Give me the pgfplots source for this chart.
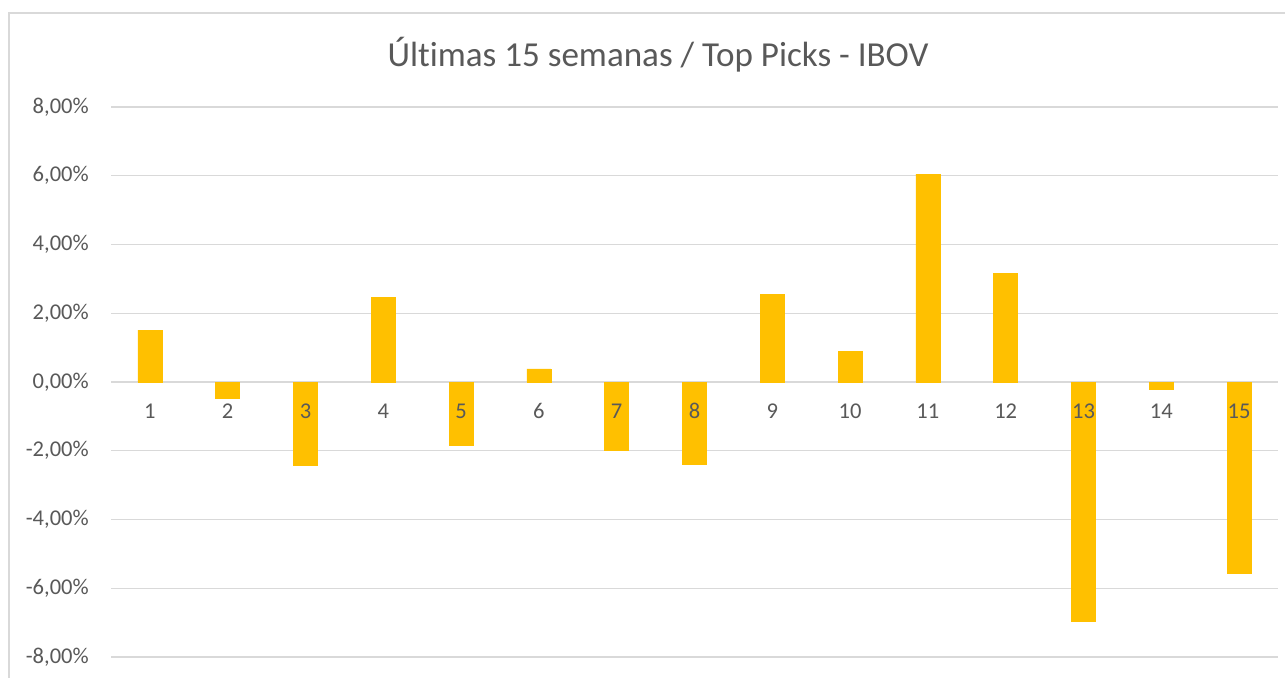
\documentclass[border=0pt]{standalone}
\usepackage{pgfplots}
\pgfplotsset{compat=1.18}
\usepackage{fontspec}
\setmainfont{Carlito}[Ligatures=NoCommon]
\definecolor{bargold}{HTML}{FFC000}
\definecolor{gridgray}{HTML}{D9D9D9}
\definecolor{txtgray}{HTML}{595959}
\begin{document}
\begin{tikzpicture}
\useasboundingbox (0,0) rectangle (963.75pt,-508.5pt);
\draw[gridgray, line width=1pt] (6.75pt,-600pt) -- (6.75pt,-9.75pt) -- (1000pt,-9.75pt);
\node[txtgray, font=\fontsize{26.3pt}{30pt}\selectfont] at (493.5pt,-41.25pt) {Últ\kern0pt imas 15 semanas / Top Picks - IBOV};
\begin{axis}[
  at={(83.25pt,-492.75pt)}, anchor=south west,
  scale only axis, width=875.25pt, height=412.5pt,
  xmin=0.5, xmax=15.5, ymin=-8, ymax=8,
  axis x line=middle, axis y line=left,
  x axis line style={draw=gridgray, line width=1pt, -},
  y axis line style={draw=none},
  xtick={1,...,15}, xticklabels={},
  ytick={-8,-6,...,8},
  yticklabels={{-8,00\%},{-6,00\%},{-4,00\%},{-2,00\%},{0,00\%},{2,00\%},{4,00\%},{6,00\%},{8,00\%}},
  major tick length=0pt,
  ymajorgrids, grid style={gridgray, line width=1pt},
  ticklabel style={font=\fontsize{16.9pt}{20pt}\selectfont, text=txtgray},
  yticklabel style={anchor=east, inner sep=0pt, xshift=-16.5pt},
  /pgf/number format/assume math mode=true,
  clip=false,
]
\addplot[ybar, bar width=18pt, bar shift=0pt, fill=bargold, draw=bargold] coordinates {
(1,1.51) (2,-0.46) (3,-2.43) (4,2.47) (5,-1.83) (6,0.38) (7,-2.00) (8,-2.39)
(9,2.56) (10,0.90) (11,6.05) (12,3.17) (13,-6.95) (14,-0.20) (15,-5.56)};
\addplot[draw=none, mark=none, nodes near coords, point meta=explicit symbolic,
  every node near coord/.style={anchor=center, yshift=-21.75pt, inner sep=0pt,
    font=\fontsize{16.9pt}{20pt}\selectfont, text=txtgray}]
  table[meta=lab] {
x y lab
1 0 1
2 0 2
3 0 3
4 0 4
5 0 5
6 0 6
7 0 7
8 0 8
9 0 9
10 0 10
11 0 11
12 0 12
13 0 13
14 0 14
15 0 15
};
\end{axis}
\end{tikzpicture}
\end{document}
